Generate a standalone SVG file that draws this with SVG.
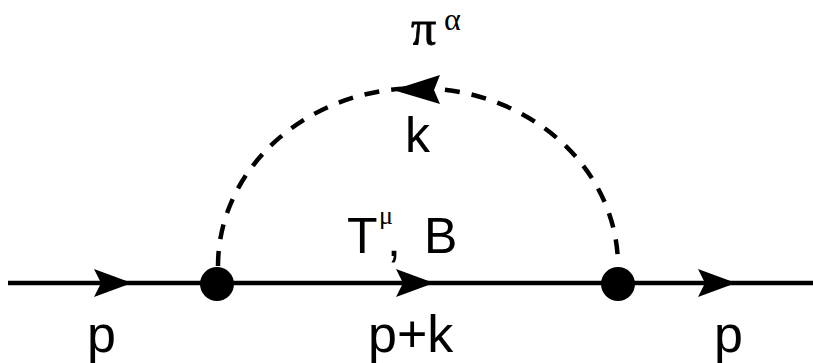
<svg xmlns="http://www.w3.org/2000/svg" width="813" height="363" viewBox="0 0 813 363">
<style>
.ln{stroke:#000;stroke-width:4.5;fill:none}
.dash{stroke:#000;stroke-width:4.5;fill:none;stroke-dasharray:15 12}
.ah{fill:#000}
.vx{fill:#000}
.lbl{font-family:"Liberation Sans",Arial,sans-serif;font-size:50px;fill:#000}
.lblb{font-family:"Liberation Sans",Arial,sans-serif;font-size:52px;fill:#000}
.gr{font-family:"Liberation Serif","Times New Roman",serif;fill:#000}
</style>
<defs>
<path id="arrR" d="M0,0 L-38,-14 L-31,0 L-38,14 Z"/>
</defs>
<rect width="813" height="363" fill="#fff"/>
<g id="connectors">
<line class="ln" x1="8" y1="283" x2="813" y2="283"/>
<path class="dash" d="M218,266 A200,178 0 0 1 618,266"/>
<use href="#arrR" class="ah" transform="translate(132,283)"/>
<use href="#arrR" class="ah" transform="translate(434,283)"/>
<use href="#arrR" class="ah" transform="translate(736,283)"/>
<path class="ah" d="M393,90 L440,75 L434,90 L440,104 Z"/>
</g>
<g id="vertex-left"><circle class="vx" cx="217" cy="284" r="17"/></g>
<g id="vertex-right"><circle class="vx" cx="618" cy="284" r="17"/></g>
<g id="labels">
<text class="gr" x="411" y="45" font-size="50" stroke="#000" stroke-width="0.8">π</text>
<text class="gr" x="444" y="30" font-size="32">α</text>
<text class="lbl" x="405" y="152">k</text>
<text class="lbl" x="347" y="253">T</text>
<text class="gr" x="379" y="224" font-size="26">μ</text>
<text class="lbl" x="387" y="256">,</text>
<text class="lbl" x="424" y="253">B</text>
<text class="lblb" x="87" y="352">p</text>
<text class="lblb" x="368" y="352">p+k</text>
<text class="lblb" x="714" y="352">p</text>
</g>
</svg>
